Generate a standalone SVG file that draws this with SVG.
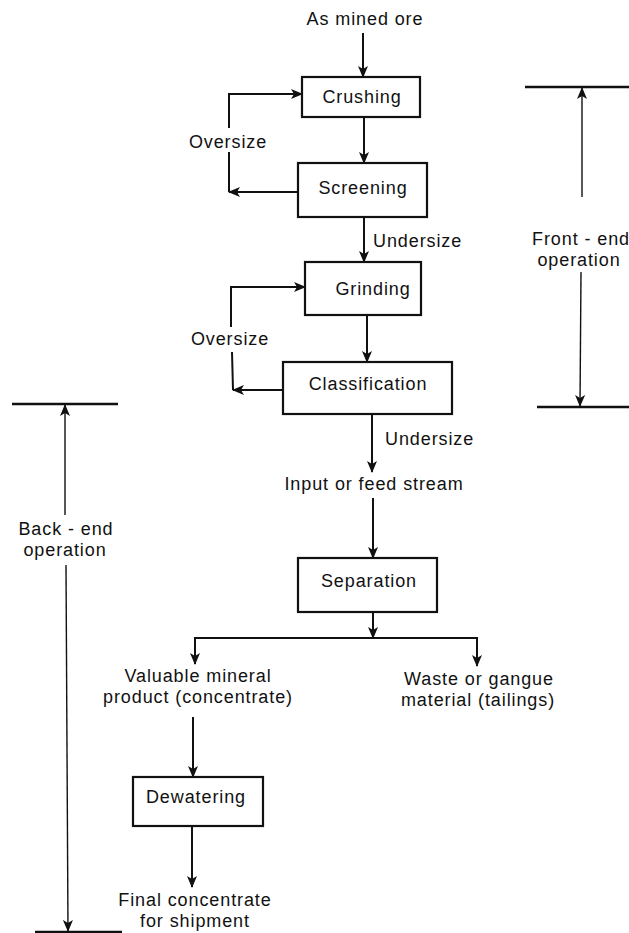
<svg xmlns="http://www.w3.org/2000/svg" width="629" height="933" viewBox="0 0 629 933">
<style>
  .box { fill: #fff; stroke: #111; stroke-width: 2.2; }
  .t { font-family: "Liberation Sans", Arial, sans-serif; font-size: 18px; letter-spacing: 0.9px; fill: #111; }
  .m { text-anchor: middle; }
  .c { fill: none; stroke: #111; stroke-width: 2; }
  .d { fill: none; stroke: #111; stroke-width: 1.4; }
  .bar { fill: none; stroke: #111; stroke-width: 2.6; }
</style>
<defs>
  <marker id="ah" viewBox="0 0 12 10" refX="11" refY="5" markerWidth="12" markerHeight="10" markerUnits="userSpaceOnUse" orient="auto">
    <path d="M0,0 L12,5 L0,10 L3,5 z" fill="#111"/>
  </marker>
</defs>
<rect width="629" height="933" fill="#fff"/>

<g id="connectors">
  <line class="c" x1="363" y1="33" x2="363" y2="77" marker-end="url(#ah)"/>
  <line class="c" x1="364" y1="117" x2="364" y2="163" marker-end="url(#ah)"/>
  <line class="c" x1="364" y1="217" x2="364" y2="262" marker-end="url(#ah)"/>
  <line class="c" x1="367" y1="315" x2="367" y2="362" marker-end="url(#ah)"/>
  <line class="c" x1="372" y1="414" x2="372" y2="472" marker-end="url(#ah)"/>
  <line class="c" x1="373" y1="498" x2="373" y2="558" marker-end="url(#ah)"/>
  <line class="c" x1="373" y1="612" x2="373" y2="638" marker-end="url(#ah)"/>
  <polyline class="c" points="195,664 195,638 477,638 477,666"/>
  <line class="c" x1="195" y1="645" x2="195" y2="664" marker-end="url(#ah)"/>
  <line class="c" x1="477" y1="645" x2="477" y2="666" marker-end="url(#ah)"/>
  <line class="c" x1="193" y1="717" x2="193" y2="777" marker-end="url(#ah)"/>
  <line class="c" x1="192" y1="826" x2="192" y2="887" marker-end="url(#ah)"/>
  <!-- oversize loop 1 -->
  <line class="c" x1="298" y1="192" x2="229" y2="192" marker-end="url(#ah)"/>
  <line class="c" x1="229" y1="192" x2="229" y2="152"/>
  <polyline class="c" points="229,128 229,94 302,94" marker-end="url(#ah)"/>
  <!-- oversize loop 2 -->
  <line class="c" x1="283" y1="390" x2="233" y2="390" marker-end="url(#ah)"/>
  <line class="c" x1="233" y1="390" x2="232" y2="352"/>
  <polyline class="c" points="231,327 231,287 305,287" marker-end="url(#ah)"/>
  <!-- front-end dimension -->
  <line class="bar" x1="525" y1="87" x2="629" y2="87"/>
  <line class="bar" x1="537" y1="407" x2="629" y2="407"/>
  <line class="d" x1="582" y1="197" x2="582" y2="88" marker-end="url(#ah)"/>
  <line class="d" x1="581" y1="272" x2="580" y2="406" marker-end="url(#ah)"/>
  <!-- back-end dimension -->
  <line class="bar" x1="12" y1="404" x2="118" y2="404"/>
  <line class="bar" x1="35" y1="932" x2="122" y2="932"/>
  <line class="d" x1="65" y1="515" x2="65" y2="405" marker-end="url(#ah)"/>
  <line class="d" x1="66" y1="565" x2="68" y2="931" marker-end="url(#ah)"/>
</g>

<g id="crushing">
  <rect class="box" x="302" y="77" width="118" height="40"/>
  <text class="t m" x="362" y="103">Crushing</text>
</g>
<g id="screening">
  <rect class="box" x="298" y="163" width="129" height="54"/>
  <text class="t m" x="363" y="194">Screening</text>
</g>
<g id="grinding">
  <rect class="box" x="305" y="262" width="116" height="53"/>
  <text class="t m" x="373" y="295">Grinding</text>
</g>
<g id="classification">
  <rect class="box" x="283" y="362" width="169" height="52"/>
  <text class="t m" x="368" y="390">Classification</text>
</g>
<g id="separation">
  <rect class="box" x="298" y="558" width="139" height="54"/>
  <text class="t m" x="369" y="587">Separation</text>
</g>
<g id="dewatering">
  <rect class="box" x="133" y="777" width="130" height="49"/>
  <text class="t m" x="196" y="803">Dewatering</text>
</g>

<g id="labels">
  <text class="t m" x="365" y="25">As mined ore</text>
  <text class="t m" x="228" y="148">Oversize</text>
  <text class="t m" x="230" y="345">Oversize</text>
  <text class="t" x="373" y="247">Undersize</text>
  <text class="t" x="385" y="445">Undersize</text>
  <text class="t m" x="374" y="490">Input or feed stream</text>
  <text class="t m" x="198" y="682">Valuable mineral</text>
  <text class="t m" x="198" y="703">product (concentrate)</text>
  <text class="t m" x="479" y="685">Waste or gangue</text>
  <text class="t m" x="478" y="706">material (tailings)</text>
  <text class="t m" x="195" y="906">Final concentrate</text>
  <text class="t m" x="195" y="927">for shipment</text>
  <text class="t m" x="581" y="245">Front - end</text>
  <text class="t m" x="579" y="266">operation</text>
  <text class="t m" x="66" y="535">Back - end</text>
  <text class="t m" x="65" y="556">operation</text>
</g>
</svg>
